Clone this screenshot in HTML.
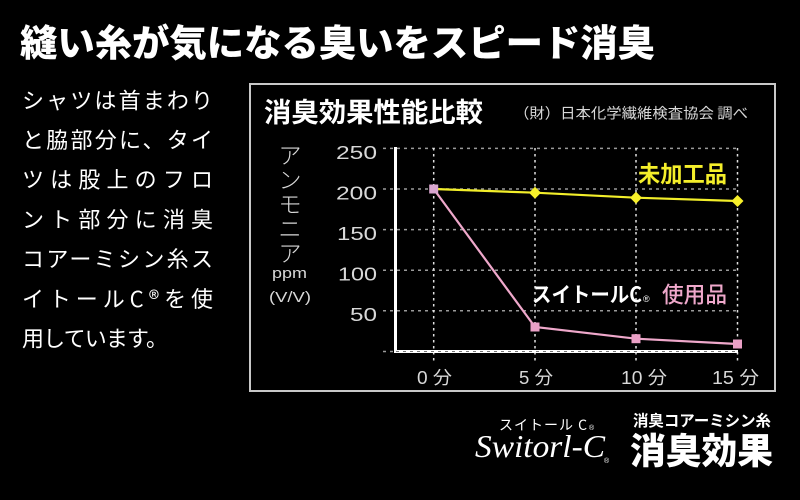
<!DOCTYPE html>
<html>
<head>
<meta charset="utf-8">
<style>
html,body{margin:0;padding:0;background:#000;}
body{width:800px;height:500px;overflow:hidden;}
svg{display:block;}
text{font-family:"Liberation Sans","Noto Sans CJK JP",sans-serif;}
.jp{font-family:"Noto Sans CJK JP","Liberation Sans",sans-serif;}
</style>
</head>
<body>
<svg width="800" height="500" viewBox="0 0 800 500" xmlns="http://www.w3.org/2000/svg">
<rect x="0" y="0" width="800" height="500" fill="#000"/>

<!-- Main title -->
<text class="jp" x="20" y="56" font-size="37" font-weight="900" fill="#fff" textLength="635" lengthAdjust="spacingAndGlyphs">縫い糸が気になる臭いをスピード消臭</text>

<!-- Left paragraph -->
<g class="jp" font-size="22" fill="#fff">
<text class="jp" x="22" y="108.4" textLength="191" lengthAdjust="spacing">シャツは首まわり</text>
<text class="jp" x="22" y="148" textLength="191" lengthAdjust="spacing">と脇部分に、タイ</text>
<text class="jp" x="22" y="187.7" textLength="191" lengthAdjust="spacing">ツは股上のフロ</text>
<text class="jp" x="22" y="227.4" textLength="191" lengthAdjust="spacing">ント部分に消臭</text>
<text class="jp" x="22" y="267" textLength="191" lengthAdjust="spacing">コアーミシン糸ス</text>
<text class="jp" x="22" y="306.8" textLength="191" lengthAdjust="spacing">イトールC®を使</text>
<text class="jp" x="22" y="346.5" textLength="146" lengthAdjust="spacing">用しています。</text>
</g>

<!-- Chart box -->
<rect x="250" y="84" width="525" height="307" fill="none" stroke="#c8c8c8" stroke-width="2"/>

<text class="jp" x="264" y="122" font-size="27" font-weight="700" fill="#fff" textLength="219" lengthAdjust="spacingAndGlyphs">消臭効果性能比較</text>
<text class="jp" x="514" y="118.5" font-size="14.5" fill="#d8d8d8" textLength="234" lengthAdjust="spacingAndGlyphs">（財）日本化学繊維検査協会 調べ</text>

<!-- Y axis title -->
<g class="jp" font-size="23" fill="#d8d8d8" text-anchor="middle" font-weight="300">
<text class="jp" x="290" y="163.5">ア</text>
<text class="jp" x="290" y="188">ン</text>
<text class="jp" x="290" y="212.5">モ</text>
<text class="jp" x="290" y="237">ニ</text>
<text class="jp" x="290" y="261.5">ア</text>
</g>
<text x="272" y="278" font-size="15" fill="#d8d8d8" textLength="35" lengthAdjust="spacingAndGlyphs">ppm</text>
<text x="269" y="302" font-size="15" fill="#d8d8d8" textLength="42" lengthAdjust="spacingAndGlyphs">(V/V)</text>

<!-- Horizontal grid -->
<g stroke="#9a9a9a" stroke-width="1.5" stroke-dasharray="3 4">
<line x1="383" y1="148.4" x2="738" y2="148.4"/>
<line x1="383" y1="189" x2="738" y2="189"/>
<line x1="383" y1="229.6" x2="738" y2="229.6"/>
<line x1="383" y1="270.2" x2="738" y2="270.2"/>
<line x1="383" y1="310.8" x2="738" y2="310.8"/>
<line x1="383" y1="351.5" x2="394" y2="351.5"/>
</g>

<!-- Vertical dotted lines -->
<g stroke="#e0e0e0" stroke-width="1.5" stroke-dasharray="2.5 3.5">
<line x1="433.7" y1="148" x2="433.7" y2="363"/>
<line x1="535" y1="148" x2="535" y2="363"/>
<line x1="636" y1="148" x2="636" y2="363"/>
<line x1="737.5" y1="148" x2="737.5" y2="363"/>
</g>

<!-- Axes -->
<line x1="395.5" y1="147" x2="395.5" y2="353" stroke="#fff" stroke-width="3"/>
<line x1="394" y1="351.5" x2="738" y2="351.5" stroke="#fff" stroke-width="3"/>
<line x1="396" y1="351.5" x2="738" y2="351.5" stroke="#777" stroke-width="1" stroke-dasharray="3 4"/>

<!-- Y labels -->
<g font-size="18" fill="#d8d8d8">
<text x="336" y="158.8" textLength="41" lengthAdjust="spacingAndGlyphs">250</text>
<text x="336" y="199.3" textLength="41" lengthAdjust="spacingAndGlyphs">200</text>
<text x="337" y="239.8" textLength="40" lengthAdjust="spacingAndGlyphs">150</text>
<text x="338" y="280.5" textLength="39" lengthAdjust="spacingAndGlyphs">100</text>
<text x="350" y="321" textLength="27" lengthAdjust="spacingAndGlyphs">50</text>
</g>

<!-- X labels -->
<g font-size="18" fill="#d8d8d8">
<text x="417" y="384" textLength="35" lengthAdjust="spacingAndGlyphs">0 分</text>
<text x="519" y="384" textLength="34" lengthAdjust="spacingAndGlyphs">5 分</text>
<text x="621" y="384" textLength="46" lengthAdjust="spacingAndGlyphs">10 分</text>
<text x="712" y="384" textLength="47" lengthAdjust="spacingAndGlyphs">15 分</text>
</g>

<!-- Yellow series -->
<polyline points="433.7,189 535,192.7 636,197.7 737.5,201" fill="none" stroke="#f2ee2a" stroke-width="2.2"/>
<g fill="#f7f02a">
<polygon points="535,186.7 541,192.7 535,198.7 529,192.7"/>
<polygon points="636,191.7 642,197.7 636,203.7 630,197.7"/>
<polygon points="737.5,195 743.5,201 737.5,207 731.5,201"/>
</g>

<!-- Pink series -->
<polyline points="433.7,189 535,327 636,338.7 737.5,344" fill="none" stroke="#efa8cb" stroke-width="2.2"/>
<g fill="#eaa0c6">
<rect x="429.2" y="184.5" width="9" height="9" fill="#d9a6d0"/>
<rect x="530.5" y="322.5" width="9" height="9"/>
<rect x="631.5" y="334.2" width="9" height="9"/>
<rect x="733" y="339.5" width="9" height="9"/>
</g>

<!-- Series labels -->
<text class="jp" x="638" y="182" font-size="23" font-weight="700" fill="#f4ee2a" textLength="89" lengthAdjust="spacingAndGlyphs">未加工品</text>
<text class="jp" x="532" y="302" font-size="21" font-weight="700" fill="#fff" textLength="110" lengthAdjust="spacingAndGlyphs">スイトールC</text>
<text x="643" y="302" font-size="9" fill="#fff">®</text>
<text class="jp" x="662" y="302.5" font-size="22" font-weight="500" fill="#efa8cb" textLength="65" lengthAdjust="spacingAndGlyphs">使用品</text>

<!-- Bottom right logo -->
<text class="jp" x="499" y="430" font-size="14" fill="#fff" textLength="88" lengthAdjust="spacing">スイトール C</text>
<text x="589" y="430" font-size="7" fill="#fff">®</text>
<text x="475" y="457" font-size="32" font-style="italic" fill="#fff" style="font-family:'Liberation Serif',serif" textLength="130" lengthAdjust="spacingAndGlyphs">Switorl-C</text>
<text x="604" y="463" font-size="7" fill="#fff">®</text>

<text class="jp" x="633" y="426" font-size="15.5" font-weight="700" fill="#fff" textLength="138" lengthAdjust="spacingAndGlyphs">消臭コアーミシン糸</text>
<text class="jp" x="630" y="463.7" font-size="36" font-weight="900" fill="#fff" textLength="143" lengthAdjust="spacingAndGlyphs">消臭効果</text>
</svg>
</body>
</html>
